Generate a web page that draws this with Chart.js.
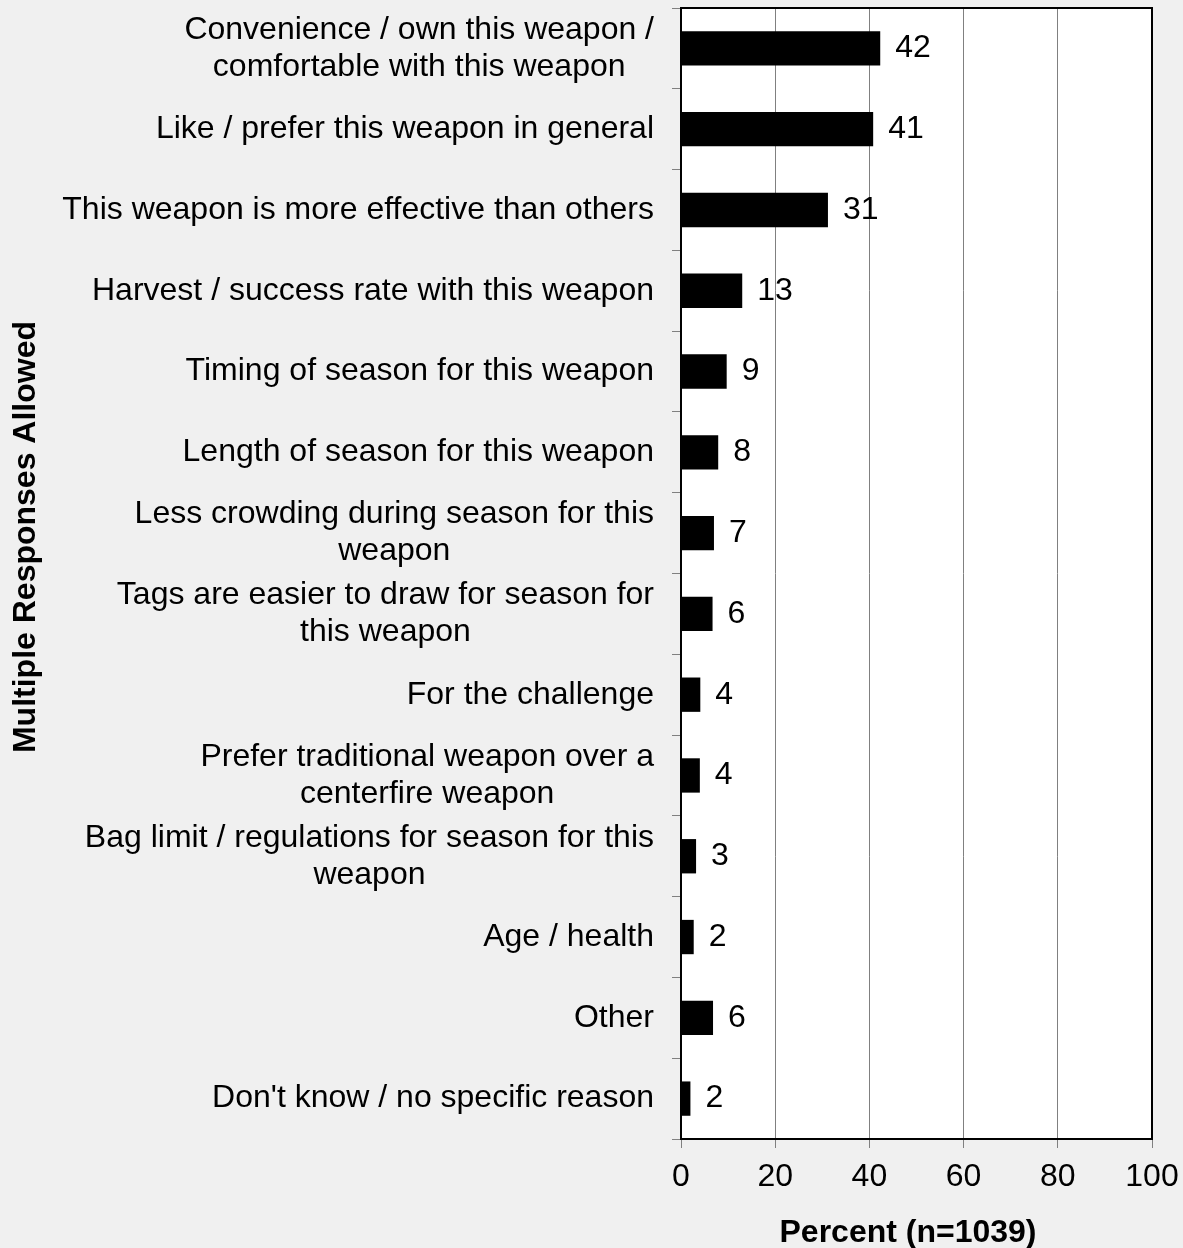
<!DOCTYPE html>
<html>
<head>
<meta charset="utf-8">
<script src="https://cdn.jsdelivr.net/npm/chart.js@4.4.1/dist/chart.umd.min.js"></script>
<style>
  html, body { margin: 0; padding: 0; background: #f0f0f0; }
  #wrap { width: 1183px; height: 1248px; }
</style>
</head>
<body>
<div id="wrap"><canvas id="chart"></canvas></div>
<script>
// Datos
const categories = [
  ['Convenience / own this weapon /', 'comfortable with this weapon'],
  'Like / prefer this weapon in general',
  'This weapon is more effective than others',
  'Harvest / success rate with this weapon',
  'Timing of season for this weapon',
  'Length of season for this weapon',
  ['Less crowding during season for this', 'weapon'],
  ['Tags are easier to draw for season for', 'this weapon'],
  'For the challenge',
  ['Prefer traditional weapon over a', 'centerfire weapon'],
  ['Bag limit / regulations for season for this', 'weapon'],
  'Age / health',
  'Other',
  "Don't know / no specific reason"
];
const percents = [42.3, 40.8, 31.2, 13.0, 9.7, 7.9, 7.0, 6.7, 4.1, 4.0, 3.2, 2.7, 6.8, 2.0];
const valueLabels = ['42', '41', '31', '13', '9', '8', '7', '6', '4', '4', '3', '2', '6', '2'];
const xTickValues = [0, 20, 40, 60, 80, 100];
const xTitle = 'Percent (n=1039)';
const yTitle = 'Multiple Responses Allowed';

const FONT = '"Liberation Sans", Arial, sans-serif';

// Fondo gris + area blanca
const background = {
  id: 'background',
  beforeDraw(chart) {
    const { ctx, chartArea: a } = chart;
    ctx.save();
    ctx.fillStyle = '#f0f0f0';
    ctx.fillRect(0, 0, chart.width, chart.height);
    ctx.fillStyle = '#ffffff';
    ctx.fillRect(a.left, a.top, a.right - a.left, a.bottom - a.top);
    ctx.restore();
  }
};

// Marco, etiquetas de categorias, valores y titulos
const decorations = {
  id: 'decorations',
  afterDatasetsDraw(chart) {
    const { ctx, chartArea: a, scales: { y } } = chart;
    ctx.save();

    // marco negro
    ctx.strokeStyle = '#000';
    ctx.lineWidth = 2;
    ctx.strokeRect(a.left, a.top, a.right - a.left, a.bottom - a.top);

    // valores al final de las barras
    ctx.font = '32px ' + FONT;
    ctx.fillStyle = '#000';
    ctx.textAlign = 'left';
    ctx.textBaseline = 'middle';
    chart.getDatasetMeta(0).data.forEach((bar, i) => {
      ctx.fillText(valueLabels[i], bar.x + 15, bar.y);
    });

    // etiquetas de categorias (bloque alineado a la derecha, lineas centradas)
    ctx.textAlign = 'center';
    categories.forEach((label, i) => {
      const lines = Array.isArray(label) ? label : [label];
      const w = Math.max(...lines.map(l => ctx.measureText(l).width));
      const cx = y.right - 27 - w / 2;
      const cy = y.getPixelForValue(i);
      lines.forEach((line, k) => {
        ctx.fillText(line, cx, cy + (k - (lines.length - 1) / 2) * 37);
      });
    });

    // titulos de ejes
    ctx.font = 'bold 32px ' + FONT;
    ctx.textBaseline = 'alphabetic';
    ctx.fillText(xTitle, 908, 1242);

    ctx.translate(26, 537);
    ctx.rotate(-Math.PI / 2);
    ctx.textBaseline = 'middle';
    ctx.fillText(yTitle, 0, 0);

    ctx.restore();
  }
};

const chart = new Chart(document.getElementById('chart').getContext('2d'), {
  type: 'bar',
  data: {
    labels: categories,
    datasets: [{
      data: percents,
      backgroundColor: '#000',
      borderWidth: 0,
      barPercentage: 0.425,
      categoryPercentage: 1
    }]
  },
  options: {
    indexAxis: 'y',
    responsive: true,
    maintainAspectRatio: false,
    animation: false,
    layout: { padding: { top: 8, right: 31, left: 0, bottom: 0 } },
    plugins: { legend: { display: false }, tooltip: { enabled: false } },
    scales: {
      x: {
        min: 0,
        max: 100,
        afterBuildTicks: (s) => { s.ticks = xTickValues.map(v => ({ value: v })); },
        afterFit: (s) => { s.height = 109; s.paddingRight = 0; s.paddingLeft = 0; },
        grid: { color: '#808080', lineWidth: 1, tickLength: 9, tickColor: '#808080' },
        border: { display: false },
        ticks: { color: '#000', padding: 10, font: { family: FONT, size: 32 } }
      },
      y: {
        offset: true,
        afterFit: (s) => { s.width = 681; },
        grid: { offset: true, drawOnChartArea: false, tickLength: 9, tickColor: '#808080' },
        border: { display: false },
        ticks: { display: false }
      }
    }
  },
  plugins: [background, decorations]
});
</script>
</body>
</html>
